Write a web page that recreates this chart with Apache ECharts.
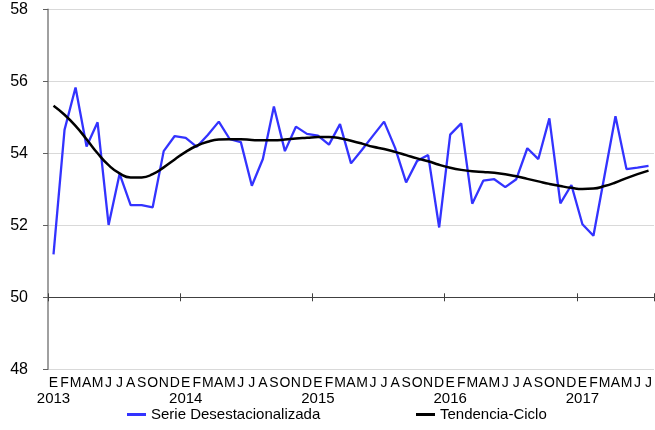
<!DOCTYPE html>
<html>
<head>
<meta charset="utf-8">
<script src="https://cdn.jsdelivr.net/npm/echarts@6/dist/echarts.min.js"></script>
<style>html,body{margin:0;padding:0;background:#fff}#c{width:655px;height:430px}</style>
</head>
<body>
<div id="c"></div>
<script>
var years = ['2013','2014','2015','2016','2017'];
var monthLetters = ['E','F','M','A','M','J','J','A','S','O','N','D'];
var monthCount = 55;
var yTicks = [48, 50, 52, 54, 56, 58];
var serie = [51.19,54.65,55.83,54.19,54.86,52.01,53.43,52.56,52.56,52.50,54.06,54.48,
  54.43,54.18,54.51,54.88,54.39,54.31,53.10,53.84,55.30,54.06,54.74,54.54,
  54.49,54.24,54.81,53.72,54.10,54.49,54.88,54.15,53.19,53.79,53.95,51.94,
  54.52,54.83,52.60,53.24,53.28,53.06,53.28,54.14,53.84,54.97,52.61,53.12,
  52.03,51.71,53.37,55.03,53.56,53.60,53.65];
var trend = [55.32,55.07,54.76,54.39,54.00,53.67,53.44,53.33,53.33,53.42,53.61,53.83,
  54.04,54.21,54.32,54.38,54.39,54.39,54.37,54.36,54.36,54.38,54.41,54.43,
  54.45,54.45,54.42,54.35,54.27,54.18,54.12,54.04,53.95,53.86,53.78,53.68,
  53.60,53.54,53.50,53.48,53.46,53.42,53.36,53.29,53.22,53.15,53.09,53.04,
  53.01,53.02,53.09,53.19,53.31,53.42,53.52];
var seriesNames = ['Serie Desestacionalizada', 'Tendencia-Ciclo'];

var categories = [];
for (var i = 0; i < monthCount; i++) {
  categories.push(monthLetters[i % 12] + '-' + years[Math.floor(i / 12)]);
}
var font = 'Liberation Sans, Arial, sans-serif';
var chart = echarts.init(document.getElementById('c'));
var baseX = {
  type: 'category', data: categories, boundaryGap: true, position: 'bottom',
  axisLabel: {show: false}, splitLine: {show: false}
};
chart.setOption({
  animation: false,
  grid: {left: 48, top: 9.3, width: 609.6, height: 360},
  legend: [
    {data: [seriesNames[0]], left: 127, top: 407, padding: 0, itemWidth: 19, itemHeight: 3, icon: 'rect',
     textStyle: {fontFamily: font, fontSize: 15, color: '#000'}},
    {data: [seriesNames[1]], left: 416, top: 407, padding: 0, itemWidth: 19, itemHeight: 3, icon: 'rect',
     textStyle: {fontFamily: font, fontSize: 15, color: '#000'}}
  ],
  xAxis: [
    {
      type: 'category', data: categories, boundaryGap: true, position: 'bottom',
      axisLine: {show: false}, axisTick: {show: false},
      axisLabel: {
        interval: 0, margin: 6, color: '#000',
        formatter: function (v) {
          var p = v.split('-');
          return p[0] === 'E' ? '{m|' + p[0] + '}\n{y|' + p[1] + '}' : '{m|' + p[0] + '}';
        },
        rich: {
          m: {fontFamily: font, fontSize: 14, color: '#000', lineHeight: 16},
          y: {fontFamily: font, fontSize: 15, color: '#000', lineHeight: 16}
        }
      }
    },
    Object.assign({}, baseX, {
      offset: -72,
      axisLine: {show: true, lineStyle: {color: '#404040', width: 1}},
      axisTick: {show: true, inside: true, length: 4, lineStyle: {color: '#404040'},
        interval: function (idx) { return idx % 12 === 0; }}
    }),
    Object.assign({}, baseX, {
      offset: -72,
      axisLine: {show: false},
      axisTick: {show: true, inside: false, length: 4, lineStyle: {color: '#404040'},
        interval: function (idx) { return idx % 12 === 0; }}
    })
  ],
  yAxis: {
    type: 'value', min: yTicks[0], max: yTicks[yTicks.length - 1], interval: 2,
    axisLine: {show: true, lineStyle: {color: '#808080', width: 1.5}},
    axisTick: {show: true, length: 5, lineStyle: {color: '#606060'}},
    axisLabel: {margin: 20, fontFamily: font, fontSize: 16, color: '#000'},
    splitLine: {show: true, lineStyle: {color: '#d9d9d9', width: 1}}
  },
  series: [
    {name: seriesNames[0], type: 'line', data: serie, xAxisIndex: 0, symbol: 'none',
     itemStyle: {color: '#3333ff'}, lineStyle: {color: '#3333ff', width: 2.3}, z: 3},
    {name: seriesNames[1], type: 'line', data: trend, xAxisIndex: 0, symbol: 'none', smooth: true,
     itemStyle: {color: '#000'}, lineStyle: {color: '#000', width: 2.5}, z: 4}
  ]
});
</script>
</body>
</html>
